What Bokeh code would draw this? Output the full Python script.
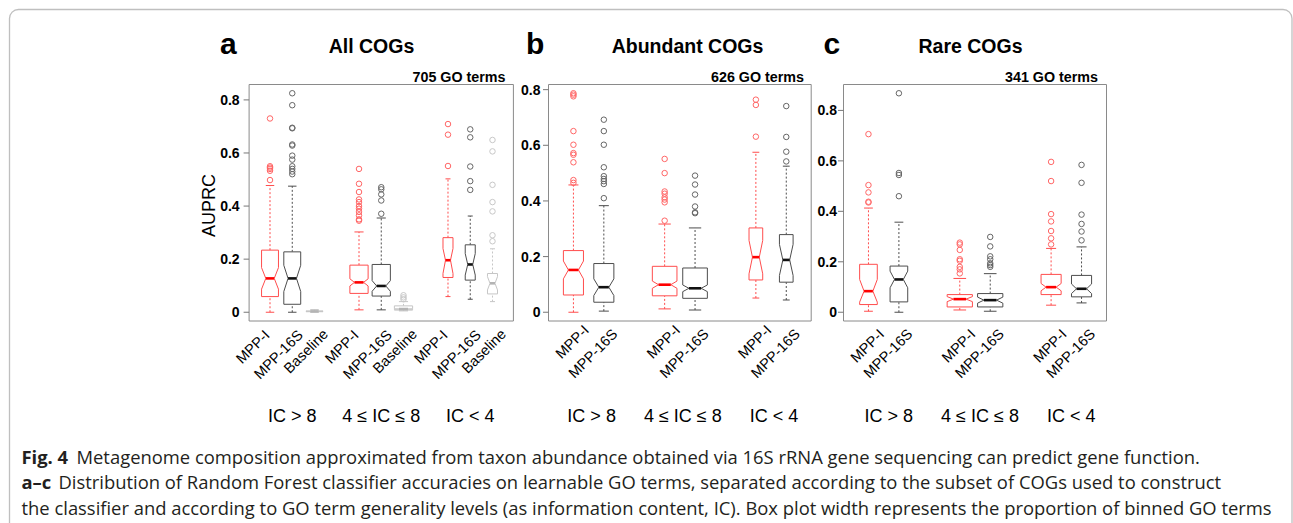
import math
from bokeh.plotting import figure
from bokeh.models import Range1d, BoxAnnotation
from bokeh.core.properties import value
from bokeh.embed import file_html
from bokeh.resources import INLINE

# ---------------- data ----------------
GROUPS = ["IC > 8", "4 \u2264 IC \u2264 8", "IC < 4"]
METHODS_A = ["MPP-I", "MPP-16S", "Baseline"]
METHODS_BC = ["MPP-I", "MPP-16S"]
PANEL_LETTERS = ["a", "b", "c"]
PANEL_TITLES = ["All COGs", "Abundant COGs", "Rare COGs"]
PANEL_COUNTS = ["705 GO terms", "626 GO terms", "341 GO terms"]
Y_TICKS = [0, 0.2, 0.4, 0.6, 0.8]
Y_TICK_LABELS = ["0", "0.2", "0.4", "0.6", "0.8"]

# Panel a (order: group by group, method by method)
A_LO = [0.0, 0.0, 0.001, 0.009, 0.009, 0.005, 0.059, 0.049, 0.040]
A_Q1 = [0.059, 0.030, 0.002, 0.071, 0.061, 0.008, 0.131, 0.121, 0.069]
A_MED = [0.1275, 0.1275, 0.003, 0.1125, 0.099, 0.012, 0.196, 0.180, 0.109]
A_Q3 = [0.234, 0.2275, 0.005, 0.1775, 0.180, 0.024, 0.281, 0.254, 0.146]
A_HI = [0.4775, 0.475, 0.010, 0.3025, 0.355, 0.040, 0.5025, 0.3625, 0.239]
A_NLO = [0.087, 0.078, 0.0025, 0.099, 0.079, 0.011, 0.146, 0.140, 0.084]
A_NHI = [0.168, 0.177, 0.0035, 0.126, 0.119, 0.013, 0.240, 0.221, 0.134]
A_WID = [0.76, 0.76, 0.76, 0.82, 0.82, 0.82, 0.45, 0.45, 0.45]
A_OUT = [
    [0.73, 0.55, 0.545, 0.54, 0.533, 0.498],
    [0.825, 0.78, 0.695, 0.693, 0.632, 0.628, 0.59, 0.575, 0.55, 0.54, 0.53, 0.52],
    [],
    [0.54, 0.484, 0.453, 0.425, 0.415, 0.40, 0.39, 0.378, 0.365, 0.35, 0.345],
    [0.471, 0.463, 0.444, 0.421, 0.371],
    [0.064, 0.056, 0.049],
    [0.709, 0.669, 0.551],
    [0.689, 0.659, 0.549, 0.494, 0.461],
    [0.649, 0.606, 0.48, 0.415, 0.38, 0.29, 0.2675],
]

# Panel b
B_LO = [0.0, 0.004, 0.012, 0.008, 0.051, 0.044]
B_Q1 = [0.062, 0.036, 0.059, 0.050, 0.116, 0.108]
B_MED = [0.152, 0.090, 0.099, 0.086, 0.198, 0.188]
B_Q3 = [0.2216, 0.175, 0.165, 0.159, 0.303, 0.279]
B_HI = [0.4575, 0.383, 0.317, 0.303, 0.575, 0.525]
B_NLO = [0.120, 0.060, 0.086, 0.074, 0.138, 0.132]
B_NHI = [0.184, 0.120, 0.112, 0.098, 0.258, 0.244]
B_WID = [0.66, 0.66, 0.81, 0.81, 0.45, 0.45]
B_OUT = [
    [0.787, 0.782, 0.776, 0.651, 0.602, 0.572, 0.566, 0.539, 0.475, 0.465],
    [0.692, 0.651, 0.602, 0.521, 0.489, 0.479, 0.471, 0.461, 0.41],
    [0.551, 0.50, 0.434, 0.426, 0.413, 0.405, 0.395, 0.329],
    [0.491, 0.459, 0.423, 0.38, 0.359, 0.356],
    [0.764, 0.745, 0.631],
    [0.741, 0.63, 0.577, 0.542],
]

# Panel c
C_LO = [0.004, 0.0, 0.009, 0.004, 0.028, 0.037]
C_Q1 = [0.0305, 0.041, 0.021, 0.021, 0.070, 0.061]
C_MED = [0.0836, 0.130, 0.052, 0.048, 0.0995, 0.093]
C_Q3 = [0.190, 0.183, 0.070, 0.074, 0.150, 0.146]
C_HI = [0.413, 0.357, 0.134, 0.153, 0.253, 0.259]
C_NLO = [0.040, 0.097, 0.042, 0.036, 0.085, 0.074]
C_NHI = [0.130, 0.163, 0.062, 0.060, 0.114, 0.112]
C_WID = [0.58, 0.58, 0.83, 0.83, 0.66, 0.66]
C_OUT = [
    [0.706, 0.504, 0.475, 0.438, 0.435],
    [0.868, 0.552, 0.544, 0.46],
    [0.276, 0.269, 0.247, 0.21, 0.204, 0.18, 0.17, 0.154],
    [0.2985, 0.261, 0.2216, 0.21, 0.194, 0.187, 0.18],
    [0.596, 0.52, 0.389, 0.36, 0.322, 0.293, 0.269],
    [0.584, 0.513, 0.387, 0.35, 0.32, 0.285],
]

CAPTION_BOLD = ["Fig. 4", "a\u2013c", ""]
CAPTION_TEXT = [
    "Metagenome composition approximated from taxon abundance obtained via 16S rRNA gene sequencing can predict gene function.",
    "Distribution of Random Forest classifier accuracies on learnable GO terms, separated according to the subset of COGs used to construct",
    "the classifier and according to GO term generality levels (as information content, IC). Box plot width represents the proportion of binned GO terms",
]

# ---------------- styles / layout ----------------
LINE_COL = {"MPP-I": "#ff4d4d", "MPP-16S": "#4d4d4d", "Baseline": "#c6c6c6"}
MED_COL = {"MPP-I": "#ff0000", "MPP-16S": "#111111", "Baseline": "#b4b4b4"}
OUT_COL = {"MPP-I": "#ff6666", "MPP-16S": "#666666", "Baseline": "#c8c8c8"}
SANS = "Liberation Sans"

W, H = 1293, 523
PX0, PY0 = 0, 0
FRAME_TOP, FRAME_BOT = 84.0, 320.5

p = figure(width=W, height=H, x_range=Range1d(PX0, PX0 + W), y_range=Range1d(PY0 + H, PY0),
           x_axis_type=None, y_axis_type=None, output_backend="svg", toolbar_location=None,
           min_border=0, outline_line_color=None, background_fill_color="white",
           border_fill_color="white")


def txt(x, y, s, size, bold=False, align="left", baseline="middle", angle=0.0,
        color="black", font=SANS, xr="default", yr="default", x_offset=0):
    p.text(x=[x], y=[y], text=[s], text_font=value(font), text_font_size=f"{size}px",
           text_font_style="bold" if bold else "normal", text_align=align,
           text_baseline=baseline, angle=angle, text_color=color,
           x_range_name=xr, y_range_name=yr, x_offset=x_offset)


# outer rounded frame (open at the bottom, as in the cropped reference)
p.add_layout(BoxAnnotation(left=9, right=PX0 + W - 1.5, top=9, bottom=PY0 + H + 30,
                           fill_color=None, line_color="#2a2a2a", line_width=1.3,
                           border_radius=9))

PANELS = [
    dict(key="a", methods=METHODS_A, fx=(248.6, 512.9), xlim=(0.06, 11.94), ylim=(-0.033, 0.858),
         data=(A_LO, A_Q1, A_MED, A_Q3, A_HI, A_NLO, A_NHI, A_WID, A_OUT),
         tick_gap=9.5, lab_dx=[-3, 8, 11], lab_y=[332, 332, 331], grp_dx=0,
         letter_x=219.5, title_x=371, count_x=505),
    dict(key="b", methods=METHODS_BC, fx=(548.0, 810.7), xlim=(0.18, 8.82), ylim=(-0.0315, 0.8185),
         data=(B_LO, B_Q1, B_MED, B_Q3, B_HI, B_NLO, B_NHI, B_WID, B_OUT),
         tick_gap=8, lab_dx=[13, 11], lab_y=[327, 331], grp_dx=3,
         letter_x=525.5, title_x=687, count_x=803.5),
    dict(key="c", methods=METHODS_BC, fx=(843.0, 1106.0), xlim=(0.18, 8.82), ylim=(-0.0347, 0.9027),
         data=(C_LO, C_Q1, C_MED, C_Q3, C_HI, C_NLO, C_NHI, C_WID, C_OUT),
         tick_gap=6.5, lab_dx=[13, 11], lab_y=[331, 331], grp_dx=5,
         letter_x=823, title_x=970, count_x=1097.5),
]

for pi_, P in enumerate(PANELS):
    key = P["key"]
    fx0, fx1 = P["fx"]
    x0, x1 = P["xlim"]
    y0, y1 = P["ylim"]
    sx = (fx1 - fx0) / (x1 - x0)
    sy = (FRAME_BOT - FRAME_TOP) / (y1 - y0)
    p.extra_x_ranges[key] = Range1d(x0 - (fx0 - PX0) / sx, x1 + (PX0 + W - fx1) / sx)
    p.extra_y_ranges[key] = Range1d(y0 - (PY0 + H - FRAME_BOT) / sy, y1 + (FRAME_TOP - PY0) / sy)
    kw = dict(x_range_name=key, y_range_name=key)

    # plot frame
    p.quad(left=[x0], right=[x1], bottom=[y0], top=[y1], fill_color=None,
           line_color="#8a8a8a", line_width=1, **kw)

    # y axis ticks and labels
    p.segment(x0=[x0] * len(Y_TICKS), y0=Y_TICKS, x1=[x0 - 5.5 / sx] * len(Y_TICKS), y1=Y_TICKS,
              line_color="#777777", line_width=1, **kw)
    p.text(x=[x0] * len(Y_TICKS), y=Y_TICKS, text=Y_TICK_LABELS, x_offset=-P["tick_gap"],
           text_font=value(SANS), text_font_size="14px", text_font_style="bold",
           text_align="right", text_baseline="middle", text_color="black", **kw)

    lo, q1, med, q3, hi, nlo, nhi, wid, outs = P["data"]
    m = len(P["methods"])
    for i in range(len(lo)):
        g, j = divmod(i, m)
        meth = P["methods"][j]
        x = g * (m + 1) + j + 1
        w = wid[i] / 2.0
        lc, mc, oc = LINE_COL[meth], MED_COL[meth], OUT_COL[meth]
        # whiskers (dashed) and staples
        p.segment(x0=[x, x], y0=[q3[i], lo[i]], x1=[x, x], y1=[hi[i], q1[i]],
                  line_color=lc, line_width=1, line_dash="2 2", **kw)
        p.segment(x0=[x - w * 0.5, x - w * 0.5], y0=[hi[i], lo[i]],
                  x1=[x + w * 0.5, x + w * 0.5], y1=[hi[i], lo[i]],
                  line_color=lc, line_width=1, **kw)
        # notched box
        bx = [x - w, x + w, x + w, x + w * 0.5, x + w, x + w, x - w, x - w, x - w * 0.5, x - w]
        by = [q1[i], q1[i], nlo[i], med[i], nhi[i], q3[i], q3[i], nhi[i], med[i], nlo[i]]
        p.patch(x=bx, y=by, fill_color="white", line_color=lc, line_width=1, **kw)
        # median
        p.segment(x0=[x - w * 0.5], y0=[med[i]], x1=[x + w * 0.5], y1=[med[i]],
                  line_color=mc, line_width=2.6, **kw)
        # outliers
        if outs[i]:
            p.scatter(x=[x] * len(outs[i]), y=outs[i], marker="circle", size=5.5,
                      fill_color=None, line_color=oc, line_width=1, **kw)
        # rotated method labels
        p.text(x=[x], y=[P["lab_y"][j]], text=[meth], x_offset=P["lab_dx"][j],
               text_font=value(SANS), text_font_size="14.5px", text_align="right",
               text_baseline="middle", angle=math.pi / 4, text_color="black",
               x_range_name=key, y_range_name="default")

    # group labels
    gx = [g * (m + 1) + (m + 1) / 2.0 for g in range(len(GROUPS))]
    p.text(x=gx, y=[415] * len(GROUPS), text=GROUPS, x_offset=P["grp_dx"],
           text_font=value(SANS), text_font_size="18px", text_align="center",
           text_baseline="middle", text_color="black", x_range_name=key, y_range_name="default")

    # panel letter, title, count
    txt(P["letter_x"], 43, PANEL_LETTERS[pi_], 30, bold=True)
    txt(P["title_x"], 45, PANEL_TITLES[pi_], 19.5, bold=True, align="center")
    txt(P["count_x"], 76.5, PANEL_COUNTS[pi_], 14.3, bold=True, align="right")

# y axis title
txt(208.5, 205, "AUPRC", 18, align="center", baseline="middle", angle=math.pi / 2)

# caption
CAP_Y = [455.5, 481, 506.5]
CAP_X = [76, 58, 21]
for k in range(3):
    if CAPTION_BOLD[k]:
        txt(21, CAP_Y[k], CAPTION_BOLD[k], 18.4, bold=True, color="#231f20", font="Open Sans")
    txt(CAP_X[k], CAP_Y[k], CAPTION_TEXT[k], 18.4, color="#231f20", font="Open Sans")

open("out.html", "w").write(file_html(p, INLINE))
